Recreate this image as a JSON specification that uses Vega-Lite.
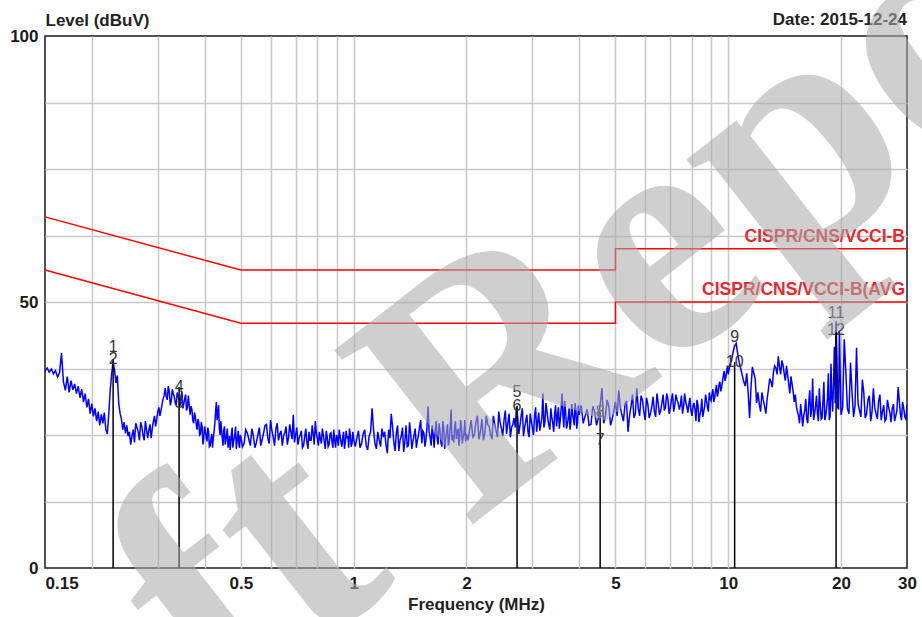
{
  "$schema": "https://vega.github.io/schema/vega-lite/v6.json",
  "width": 862,
  "height": 532,
  "autosize": {"type": "none"},
  "padding": {"left": 45, "top": 36, "right": 15, "bottom": 49},
  "background": "white",
  "config": {
    "font": "Liberation Sans",
    "view": {"stroke": "#1a1a1a", "strokeWidth": 1.5}
  },
  "datasets": {
    "trace": [
      {"f":0.150,"v":37.0},{"f":0.152,"v":37.6},{"f":0.154,"v":36.8},{"f":0.156,"v":37.4},{"f":0.158,"v":36.5},{"f":0.160,"v":37.1},{"f":0.162,"v":35.9},{"f":0.164,"v":36.7},{"f":0.166,"v":40.4},{"f":0.168,"v":35.0},
      {"f":0.170,"v":33.4},{"f":0.172,"v":36.0},{"f":0.174,"v":33.0},{"f":0.176,"v":35.2},{"f":0.178,"v":33.5},{"f":0.180,"v":34.6},{"f":0.182,"v":32.8},{"f":0.184,"v":34.2},{"f":0.186,"v":32.0},{"f":0.188,"v":33.6},
      {"f":0.190,"v":31.2},{"f":0.192,"v":32.8},{"f":0.194,"v":30.2},{"f":0.196,"v":31.8},{"f":0.198,"v":29.0},{"f":0.200,"v":30.9},{"f":0.202,"v":28.5},{"f":0.204,"v":30.0},{"f":0.206,"v":27.6},{"f":0.208,"v":29.4},
      {"f":0.210,"v":26.8},{"f":0.212,"v":28.9},{"f":0.214,"v":27.2},{"f":0.216,"v":29.2},{"f":0.218,"v":26.0},{"f":0.220,"v":25.2},{"f":0.222,"v":29.0},{"f":0.224,"v":33.5},{"f":0.226,"v":36.5},{"f":0.228,"v":38.8},
      {"f":0.230,"v":37.2},{"f":0.232,"v":34.8},{"f":0.234,"v":36.2},{"f":0.236,"v":31.0},{"f":0.238,"v":29.0},{"f":0.240,"v":28.0},{"f":0.242,"v":26.0},{"f":0.244,"v":27.4},{"f":0.246,"v":25.3},{"f":0.248,"v":26.8},
      {"f":0.250,"v":24.8},{"f":0.254,"v":23.2},{"f":0.258,"v":26.0},{"f":0.262,"v":27.2},{"f":0.266,"v":25.6},{"f":0.270,"v":27.4},{"f":0.274,"v":25.0},{"f":0.278,"v":27.6},{"f":0.282,"v":24.4},{"f":0.286,"v":27.0},
      {"f":0.290,"v":26.2},{"f":0.294,"v":28.6},{"f":0.298,"v":28.0},{"f":0.302,"v":30.2},{"f":0.306,"v":29.6},{"f":0.310,"v":31.8},{"f":0.314,"v":33.8},{"f":0.318,"v":31.6},{"f":0.322,"v":33.2},{"f":0.326,"v":31.4},
      {"f":0.330,"v":32.8},{"f":0.334,"v":31.0},{"f":0.338,"v":33.0},{"f":0.342,"v":31.6},{"f":0.346,"v":32.2},{"f":0.350,"v":30.0},{"f":0.354,"v":31.8},{"f":0.358,"v":29.6},{"f":0.362,"v":32.4},{"f":0.366,"v":28.8},
      {"f":0.370,"v":29.8},{"f":0.374,"v":27.2},{"f":0.378,"v":28.4},{"f":0.382,"v":26.0},{"f":0.386,"v":27.4},{"f":0.390,"v":25.2},{"f":0.394,"v":26.6},{"f":0.398,"v":24.4},{"f":0.402,"v":25.8},{"f":0.406,"v":23.8},
      {"f":0.410,"v":25.6},{"f":0.414,"v":23.0},{"f":0.418,"v":25.2},{"f":0.422,"v":24.4},{"f":0.426,"v":27.2},{"f":0.430,"v":31.2},{"f":0.434,"v":29.0},{"f":0.438,"v":26.2},{"f":0.442,"v":27.6},{"f":0.446,"v":24.4},
      {"f":0.450,"v":25.8},{"f":0.454,"v":23.2},{"f":0.458,"v":25.0},{"f":0.462,"v":22.6},{"f":0.466,"v":24.8},{"f":0.470,"v":23.4},{"f":0.474,"v":26.4},{"f":0.478,"v":23.8},{"f":0.482,"v":25.2},{"f":0.486,"v":22.4},
      {"f":0.490,"v":24.6},{"f":0.494,"v":23.2},{"f":0.498,"v":25.0},
      {"f":0.252,"v":25.6},{"f":0.256,"v":24.8},{"f":0.260,"v":23.6},{"f":0.264,"v":26.4},{"f":0.268,"v":24.0},{"f":0.272,"v":26.6},{"f":0.276,"v":24.0},{"f":0.280,"v":26.0},{"f":0.284,"v":25.8},{"f":0.288,"v":24.4},
      {"f":0.292,"v":27.6},{"f":0.296,"v":26.6},{"f":0.300,"v":29.4},{"f":0.304,"v":28.6},{"f":0.308,"v":30.8},{"f":0.312,"v":32.4},{"f":0.316,"v":32.2},{"f":0.320,"v":34.2},{"f":0.324,"v":30.6},{"f":0.328,"v":33.6},
      {"f":0.332,"v":32.2},{"f":0.336,"v":30.6},{"f":0.340,"v":32.4},{"f":0.344,"v":30.4},{"f":0.348,"v":33.2},{"f":0.352,"v":30.8},{"f":0.356,"v":32.6},{"f":0.360,"v":30.2},{"f":0.364,"v":30.6},{"f":0.368,"v":30.4},
      {"f":0.372,"v":27.8},{"f":0.376,"v":29.2},{"f":0.380,"v":27.0},{"f":0.384,"v":28.0},{"f":0.388,"v":25.0},{"f":0.392,"v":27.4},{"f":0.396,"v":23.2},{"f":0.400,"v":26.6},{"f":0.404,"v":24.6},{"f":0.408,"v":26.4},
      {"f":0.412,"v":22.8},{"f":0.416,"v":24.2},{"f":0.420,"v":22.6},{"f":0.424,"v":25.6},{"f":0.428,"v":29.4},{"f":0.432,"v":27.8},{"f":0.436,"v":30.6},{"f":0.440,"v":25.0},{"f":0.444,"v":26.0},{"f":0.448,"v":23.0},
      {"f":0.452,"v":26.6},{"f":0.456,"v":24.0},{"f":0.460,"v":26.2},{"f":0.464,"v":23.6},{"f":0.468,"v":22.2},{"f":0.472,"v":25.4},{"f":0.476,"v":22.6},{"f":0.480,"v":24.4},{"f":0.484,"v":26.6},{"f":0.488,"v":23.6},
      {"f":0.492,"v":25.8},{"f":0.496,"v":22.6},{"f":0.500,"v":24.6},
      {"f":0.51,"v":23.4},{"f":0.52,"v":25.4},{"f":0.53,"v":23.0},{"f":0.54,"v":24.8},{"f":0.55,"v":23.6},{"f":0.56,"v":26.4},{"f":0.57,"v":24.2},{"f":0.58,"v":26.8},{"f":0.59,"v":24.4},{"f":0.60,"v":27.8},
      {"f":0.61,"v":24.6},{"f":0.62,"v":26.2},{"f":0.63,"v":24.0},{"f":0.64,"v":25.8},{"f":0.65,"v":24.8},{"f":0.66,"v":26.6},{"f":0.67,"v":24.4},{"f":0.68,"v":25.6},{"f":0.69,"v":28.8},{"f":0.70,"v":25.0},
      {"f":0.71,"v":23.2},{"f":0.72,"v":25.0},{"f":0.73,"v":22.6},{"f":0.74,"v":24.6},{"f":0.75,"v":23.8},{"f":0.76,"v":25.6},{"f":0.77,"v":24.0},{"f":0.78,"v":25.2},{"f":0.79,"v":27.6},{"f":0.80,"v":24.4},
      {"f":0.81,"v":25.6},{"f":0.82,"v":23.4},{"f":0.83,"v":25.0},{"f":0.84,"v":22.4},{"f":0.85,"v":24.6},{"f":0.86,"v":23.2},{"f":0.87,"v":25.4},{"f":0.88,"v":22.6},{"f":0.89,"v":24.0},{"f":0.90,"v":25.0},
      {"f":0.91,"v":23.0},{"f":0.92,"v":24.8},{"f":0.93,"v":22.8},{"f":0.94,"v":25.6},{"f":0.95,"v":23.6},{"f":0.96,"v":24.4},{"f":0.97,"v":22.6},{"f":0.98,"v":25.0},{"f":0.99,"v":23.4},{"f":1.00,"v":24.2},
      {"f":0.505,"v":22.8},{"f":0.515,"v":26.0},{"f":0.525,"v":24.2},{"f":0.535,"v":26.2},{"f":0.545,"v":22.6},{"f":0.555,"v":25.0},{"f":0.565,"v":23.0},{"f":0.575,"v":25.4},{"f":0.585,"v":27.0},{"f":0.595,"v":23.4},
      {"f":0.605,"v":25.8},{"f":0.615,"v":23.0},{"f":0.625,"v":27.2},{"f":0.635,"v":25.2},{"f":0.645,"v":23.0},{"f":0.655,"v":25.4},{"f":0.665,"v":23.2},{"f":0.675,"v":27.0},{"f":0.685,"v":24.2},{"f":0.695,"v":23.6},
      {"f":0.705,"v":26.4},{"f":0.715,"v":24.4},{"f":0.725,"v":25.8},{"f":0.735,"v":23.0},{"f":0.745,"v":26.2},{"f":0.755,"v":22.4},{"f":0.765,"v":24.0},{"f":0.775,"v":26.8},{"f":0.785,"v":23.2},{"f":0.795,"v":25.4},
      {"f":0.805,"v":23.0},{"f":0.815,"v":24.2},{"f":0.825,"v":26.2},{"f":0.835,"v":23.6},{"f":0.845,"v":25.8},{"f":0.855,"v":22.8},{"f":0.865,"v":25.2},{"f":0.875,"v":23.8},{"f":0.885,"v":26.0},{"f":0.895,"v":22.6},
      {"f":0.905,"v":24.4},{"f":0.915,"v":26.0},{"f":0.925,"v":23.6},{"f":0.935,"v":24.6},{"f":0.945,"v":22.4},{"f":0.955,"v":25.8},{"f":0.965,"v":24.8},{"f":0.975,"v":26.2},{"f":0.985,"v":22.8},{"f":0.995,"v":25.6},
      {"f":1.02,"v":24.4},{"f":1.04,"v":22.6},{"f":1.06,"v":25.2},{"f":1.08,"v":23.0},{"f":1.10,"v":24.8},{"f":1.12,"v":30.0},{"f":1.14,"v":23.4},{"f":1.16,"v":25.6},{"f":1.18,"v":22.8},{"f":1.20,"v":24.6},
      {"f":1.22,"v":23.2},{"f":1.24,"v":26.0},{"f":1.26,"v":29.0},{"f":1.28,"v":23.6},{"f":1.30,"v":25.4},{"f":1.32,"v":22.0},{"f":1.34,"v":24.8},{"f":1.36,"v":21.8},{"f":1.38,"v":26.8},{"f":1.40,"v":23.0},
      {"f":1.42,"v":25.2},{"f":1.44,"v":23.8},{"f":1.46,"v":26.2},{"f":1.48,"v":24.0},{"f":1.50,"v":26.6},{"f":1.52,"v":23.4},{"f":1.54,"v":25.4},{"f":1.56,"v":24.2},{"f":1.58,"v":30.4},{"f":1.60,"v":24.6},
      {"f":1.62,"v":26.8},{"f":1.64,"v":22.6},{"f":1.66,"v":27.6},{"f":1.68,"v":23.2},{"f":1.70,"v":25.8},{"f":1.72,"v":22.8},{"f":1.74,"v":26.4},{"f":1.76,"v":24.2},{"f":1.78,"v":27.0},{"f":1.80,"v":24.0},
      {"f":1.82,"v":29.8},{"f":1.84,"v":25.0},{"f":1.86,"v":26.6},{"f":1.88,"v":24.2},{"f":1.90,"v":26.0},{"f":1.92,"v":24.8},{"f":1.94,"v":26.4},{"f":1.96,"v":24.6},{"f":1.98,"v":27.8},{"f":2.00,"v":25.2},
      {"f":1.01,"v":22.8},{"f":1.03,"v":25.8},{"f":1.05,"v":23.4},{"f":1.07,"v":26.0},{"f":1.09,"v":22.2},{"f":1.11,"v":25.6},{"f":1.13,"v":26.0},{"f":1.15,"v":22.4},{"f":1.17,"v":24.0},{"f":1.19,"v":26.2},
      {"f":1.21,"v":25.6},{"f":1.23,"v":21.6},{"f":1.25,"v":24.4},{"f":1.27,"v":26.6},{"f":1.29,"v":22.0},{"f":1.31,"v":26.8},{"f":1.33,"v":24.0},{"f":1.35,"v":26.4},{"f":1.37,"v":23.8},{"f":1.39,"v":22.8},
      {"f":1.41,"v":27.4},{"f":1.43,"v":22.4},{"f":1.45,"v":25.0},{"f":1.47,"v":22.6},{"f":1.49,"v":25.0},{"f":1.51,"v":27.8},{"f":1.53,"v":25.8},{"f":1.55,"v":22.8},{"f":1.57,"v":26.6},{"f":1.59,"v":25.6},
      {"f":1.61,"v":23.0},{"f":1.63,"v":25.0},{"f":1.65,"v":25.6},{"f":1.67,"v":24.6},{"f":1.69,"v":27.2},{"f":1.71,"v":23.6},{"f":1.73,"v":27.6},{"f":1.75,"v":22.4},{"f":1.77,"v":25.6},{"f":1.79,"v":23.0},
      {"f":1.81,"v":26.4},{"f":1.83,"v":24.0},{"f":1.85,"v":23.6},{"f":1.87,"v":27.6},{"f":1.89,"v":25.8},{"f":1.91,"v":23.0},{"f":1.93,"v":27.8},{"f":1.95,"v":23.4},{"f":1.97,"v":25.2},{"f":1.99,"v":23.8},
      {"f":2.04,"v":26.0},{"f":2.08,"v":24.6},{"f":2.12,"v":27.4},{"f":2.16,"v":24.2},{"f":2.20,"v":28.0},{"f":2.24,"v":25.4},{"f":2.28,"v":27.0},{"f":2.32,"v":25.0},{"f":2.36,"v":28.6},{"f":2.40,"v":25.8},
      {"f":2.44,"v":29.4},{"f":2.48,"v":26.2},{"f":2.52,"v":27.8},{"f":2.56,"v":25.2},{"f":2.60,"v":29.0},{"f":2.64,"v":26.4},{"f":2.68,"v":28.2},{"f":2.72,"v":30.2},{"f":2.76,"v":25.2},{"f":2.80,"v":28.6},
      {"f":2.84,"v":24.8},{"f":2.88,"v":27.6},{"f":2.92,"v":25.6},{"f":2.96,"v":29.0},{"f":3.00,"v":26.4},{"f":3.04,"v":28.4},{"f":3.08,"v":25.6},{"f":3.12,"v":29.2},{"f":3.16,"v":27.0},{"f":3.20,"v":32.8},
      {"f":3.24,"v":27.4},{"f":3.28,"v":29.6},{"f":3.32,"v":26.8},{"f":3.36,"v":30.0},{"f":3.40,"v":27.2},{"f":3.44,"v":29.0},{"f":3.48,"v":26.6},{"f":3.52,"v":30.2},{"f":3.56,"v":27.8},{"f":3.60,"v":32.8},
      {"f":3.64,"v":26.4},{"f":3.68,"v":29.4},{"f":3.72,"v":27.0},{"f":3.76,"v":30.0},{"f":3.80,"v":27.4},{"f":3.84,"v":29.0},{"f":3.88,"v":26.8},{"f":3.92,"v":29.6},{"f":3.96,"v":27.4},{"f":4.00,"v":28.8},
      {"f":2.02,"v":24.0},{"f":2.06,"v":27.8},{"f":2.10,"v":25.0},{"f":2.14,"v":28.6},{"f":2.18,"v":25.6},{"f":2.22,"v":24.0},{"f":2.26,"v":28.6},{"f":2.30,"v":26.6},{"f":2.34,"v":24.2},{"f":2.38,"v":27.0},
      {"f":2.42,"v":24.6},{"f":2.46,"v":27.4},{"f":2.50,"v":24.8},{"f":2.54,"v":29.6},{"f":2.58,"v":27.2},{"f":2.62,"v":24.6},{"f":2.66,"v":27.0},{"f":2.70,"v":26.4},{"f":2.74,"v":28.4},{"f":2.78,"v":26.8},
      {"f":2.82,"v":30.0},{"f":2.86,"v":26.4},{"f":2.90,"v":28.8},{"f":2.94,"v":24.6},{"f":2.98,"v":27.6},{"f":3.02,"v":25.0},{"f":3.06,"v":30.2},{"f":3.10,"v":27.6},{"f":3.14,"v":25.8},{"f":3.18,"v":28.2},
      {"f":3.22,"v":26.4},{"f":3.26,"v":31.0},{"f":3.30,"v":28.0},{"f":3.34,"v":26.0},{"f":3.38,"v":28.4},{"f":3.42,"v":25.6},{"f":3.46,"v":30.6},{"f":3.50,"v":28.4},{"f":3.54,"v":26.2},{"f":3.58,"v":29.8},
      {"f":3.62,"v":28.8},{"f":3.66,"v":31.4},{"f":3.70,"v":26.2},{"f":3.74,"v":28.2},{"f":3.78,"v":26.0},{"f":3.82,"v":30.8},{"f":3.86,"v":28.0},{"f":3.90,"v":31.0},{"f":3.94,"v":26.2},{"f":3.98,"v":30.6},
      {"f":4.1,"v":27.2},{"f":4.2,"v":29.8},{"f":4.3,"v":27.0},{"f":4.4,"v":29.4},{"f":4.5,"v":28.2},{"f":4.6,"v":33.8},{"f":4.7,"v":28.6},{"f":4.8,"v":30.4},{"f":4.9,"v":28.0},{"f":5.0,"v":31.2},
      {"f":5.1,"v":33.4},{"f":5.2,"v":28.8},{"f":5.3,"v":30.8},{"f":5.4,"v":25.6},{"f":5.5,"v":30.4},{"f":5.6,"v":28.2},{"f":5.7,"v":33.8},{"f":5.8,"v":28.6},{"f":5.9,"v":31.6},{"f":6.0,"v":27.8},
      {"f":6.1,"v":30.8},{"f":6.2,"v":29.0},{"f":6.3,"v":32.2},{"f":6.4,"v":28.4},{"f":6.5,"v":31.0},{"f":6.6,"v":29.6},{"f":6.7,"v":32.6},{"f":6.8,"v":30.2},{"f":6.9,"v":31.8},{"f":7.0,"v":30.0},
      {"f":7.1,"v":32.8},{"f":7.2,"v":30.6},{"f":7.3,"v":31.6},{"f":7.4,"v":29.8},{"f":7.5,"v":32.4},{"f":7.6,"v":30.4},{"f":7.7,"v":31.2},{"f":7.8,"v":29.2},{"f":7.9,"v":32.0},{"f":8.0,"v":28.6},
      {"f":8.1,"v":31.0},{"f":8.2,"v":27.6},{"f":8.3,"v":30.6},{"f":8.4,"v":28.8},{"f":8.5,"v":31.8},{"f":8.6,"v":29.4},{"f":8.7,"v":32.6},{"f":8.8,"v":30.2},{"f":8.9,"v":33.0},{"f":9.0,"v":31.4},
      {"f":9.1,"v":33.6},{"f":9.2,"v":32.0},{"f":9.3,"v":34.4},{"f":9.4,"v":33.0},{"f":9.5,"v":35.0},{"f":9.6,"v":34.0},{"f":9.7,"v":36.2},{"f":9.8,"v":35.2},{"f":9.9,"v":37.0},{"f":10.0,"v":36.4},
      {"f":4.05,"v":30.6},{"f":4.15,"v":28.6},{"f":4.25,"v":26.8},{"f":4.35,"v":30.4},{"f":4.45,"v":26.8},{"f":4.55,"v":30.6},{"f":4.65,"v":27.2},{"f":4.75,"v":31.6},{"f":4.85,"v":26.8},{"f":4.95,"v":29.6},
      {"f":5.05,"v":28.6},{"f":5.15,"v":30.2},{"f":5.25,"v":27.6},{"f":5.35,"v":31.4},{"f":5.45,"v":28.6},{"f":5.55,"v":32.6},{"f":5.65,"v":29.0},{"f":5.75,"v":30.0},{"f":5.85,"v":32.4},{"f":5.95,"v":29.4},
      {"f":6.05,"v":32.0},{"f":6.15,"v":28.2},{"f":6.25,"v":30.4},{"f":6.35,"v":29.4},{"f":6.45,"v":32.8},{"f":6.55,"v":28.8},{"f":6.65,"v":31.0},{"f":6.75,"v":29.6},{"f":6.85,"v":32.8},{"f":6.95,"v":29.0},
      {"f":7.05,"v":31.6},{"f":7.15,"v":29.4},{"f":7.25,"v":32.6},{"f":7.35,"v":31.0},{"f":7.45,"v":30.6},{"f":7.55,"v":29.0},{"f":7.65,"v":32.8},{"f":7.75,"v":30.4},{"f":7.85,"v":30.8},{"f":7.95,"v":29.6},
      {"f":8.05,"v":30.4},{"f":8.15,"v":29.8},{"f":8.25,"v":31.6},{"f":8.35,"v":27.4},{"f":8.45,"v":29.6},{"f":8.55,"v":28.4},{"f":8.65,"v":30.4},{"f":8.75,"v":31.4},{"f":8.85,"v":29.4},{"f":8.95,"v":31.8},
      {"f":9.05,"v":32.8},{"f":9.15,"v":31.2},{"f":9.25,"v":33.4},{"f":9.35,"v":32.2},{"f":9.45,"v":34.6},{"f":9.55,"v":33.2},{"f":9.65,"v":35.0},{"f":9.75,"v":37.0},{"f":9.85,"v":35.8},{"f":9.95,"v":38.0},
      {"f":10.2,"v":39.0},{"f":10.4,"v":41.8},{"f":10.6,"v":40.2},{"f":10.8,"v":37.4},{"f":11.0,"v":35.0},{"f":11.2,"v":36.6},{"f":11.4,"v":28.2},{"f":11.6,"v":37.8},{"f":11.8,"v":35.6},{"f":12.0,"v":33.0},
      {"f":12.2,"v":29.4},{"f":12.4,"v":31.6},{"f":12.6,"v":29.0},{"f":12.8,"v":33.6},{"f":13.0,"v":35.0},{"f":13.2,"v":36.8},{"f":13.4,"v":37.6},{"f":13.6,"v":39.8},{"f":13.8,"v":36.4},{"f":14.0,"v":38.2},
      {"f":14.2,"v":35.2},{"f":14.4,"v":36.4},{"f":14.6,"v":32.8},{"f":14.8,"v":34.6},{"f":15.0,"v":31.2},{"f":15.2,"v":30.4},{"f":15.4,"v":28.6},{"f":15.6,"v":30.8},{"f":15.8,"v":26.6},{"f":16.0,"v":29.6},
      {"f":16.2,"v":28.0},{"f":16.4,"v":31.0},{"f":16.6,"v":28.4},{"f":16.8,"v":35.6},{"f":17.0,"v":29.0},{"f":17.2,"v":32.4},{"f":17.4,"v":27.6},{"f":17.6,"v":30.6},{"f":17.8,"v":28.2},{"f":18.0,"v":35.0},
      {"f":18.2,"v":28.6},{"f":18.4,"v":31.8},{"f":18.6,"v":27.8},{"f":18.8,"v":38.4},{"f":19.0,"v":29.4},{"f":19.2,"v":41.6},{"f":19.4,"v":46.4},{"f":19.6,"v":30.2},{"f":19.8,"v":44.6},{"f":20.0,"v":28.8},
      {"f":10.1,"v":38.2},{"f":10.3,"v":40.6},{"f":10.5,"v":42.2},{"f":10.7,"v":38.6},{"f":10.9,"v":36.2},{"f":11.1,"v":34.2},{"f":11.3,"v":33.0},{"f":11.5,"v":34.0},{"f":11.7,"v":36.6},{"f":11.9,"v":31.0},
      {"f":12.1,"v":30.8},{"f":12.3,"v":33.0},{"f":12.5,"v":30.4},{"f":12.7,"v":31.8},{"f":12.9,"v":35.6},{"f":13.1,"v":34.0},{"f":13.3,"v":38.0},{"f":13.5,"v":36.4},{"f":13.7,"v":37.8},{"f":13.9,"v":39.0},
      {"f":14.1,"v":36.6},{"f":14.3,"v":38.0},{"f":14.5,"v":34.6},{"f":14.7,"v":36.0},{"f":14.9,"v":33.2},{"f":15.1,"v":32.6},{"f":15.3,"v":29.4},{"f":15.5,"v":27.2},{"f":15.7,"v":29.0},{"f":15.9,"v":28.6},
      {"f":16.1,"v":31.8},{"f":16.3,"v":27.2},{"f":16.5,"v":33.4},{"f":16.7,"v":29.8},{"f":16.9,"v":27.8},{"f":17.1,"v":30.4},{"f":17.3,"v":29.0},{"f":17.5,"v":33.8},{"f":17.7,"v":28.0},{"f":17.9,"v":31.4},
      {"f":18.1,"v":27.8},{"f":18.3,"v":30.0},{"f":18.5,"v":36.6},{"f":18.7,"v":28.6},{"f":18.9,"v":32.0},{"f":19.1,"v":35.2},{"f":19.3,"v":31.0},{"f":19.5,"v":40.0},{"f":19.7,"v":29.8},{"f":19.9,"v":36.4},
      {"f":20.4,"v":43.0},{"f":20.8,"v":30.0},{"f":21.2,"v":38.6},{"f":21.6,"v":28.4},{"f":22.0,"v":41.4},{"f":22.4,"v":29.6},{"f":22.8,"v":35.4},{"f":23.2,"v":28.2},{"f":23.6,"v":31.6},{"f":24.0,"v":27.6},
      {"f":24.4,"v":33.8},{"f":24.8,"v":29.0},{"f":25.2,"v":31.4},{"f":25.6,"v":27.8},{"f":26.0,"v":30.6},{"f":26.4,"v":28.0},{"f":26.8,"v":30.2},{"f":27.2,"v":27.4},{"f":27.6,"v":30.8},{"f":28.0,"v":28.6},
      {"f":28.4,"v":34.0},{"f":28.8,"v":29.0},{"f":29.2,"v":31.2},{"f":29.6,"v":28.4},{"f":30.0,"v":30.6},
      {"f":20.2,"v":30.2},{"f":20.6,"v":36.8},{"f":21.0,"v":29.0},{"f":21.4,"v":33.0},{"f":21.8,"v":30.6},{"f":22.2,"v":31.0},{"f":22.6,"v":28.4},{"f":23.0,"v":33.0},{"f":23.4,"v":29.0},{"f":23.8,"v":32.4},
      {"f":24.2,"v":29.4},{"f":24.6,"v":30.2},{"f":25.0,"v":28.0},{"f":25.4,"v":32.6},{"f":25.8,"v":29.4},{"f":26.2,"v":27.6},{"f":26.6,"v":31.6},{"f":27.0,"v":29.2},{"f":27.4,"v":30.0},{"f":27.8,"v":27.6},
      {"f":28.2,"v":29.6},{"f":28.6,"v":31.6},{"f":29.0,"v":27.8},{"f":29.4,"v":30.0},{"f":29.8,"v":28.0}
    ],
    "limits": [
      {"s":"QP","i":1,"f":0.15,"v":66},{"s":"QP","i":2,"f":0.5,"v":56},{"s":"QP","i":3,"f":5,"v":56},{"s":"QP","i":4,"f":5,"v":60},{"s":"QP","i":5,"f":30,"v":60},
      {"s":"AVG","i":1,"f":0.15,"v":56},{"s":"AVG","i":2,"f":0.5,"v":46},{"s":"AVG","i":3,"f":5,"v":46},{"s":"AVG","i":4,"f":5,"v":50},{"s":"AVG","i":5,"f":30,"v":50}
    ],
    "limlabels": [
      {"label":"CISPR/CNS/VCCI-B","f":30,"v":60},
      {"label":"CISPR/CNS/VCCI-B(AVG","f":30,"v":50}
    ],
    "markers": [
      {"n":"1","t":"QP","f":0.228,"v":41.5},{"n":"2","t":"AVG","f":0.228,"v":39.3},
      {"n":"3","t":"QP","f":0.342,"v":31.0},{"n":"4","t":"AVG","f":0.342,"v":34.0},
      {"n":"5","t":"QP","f":2.73,"v":33.1},{"n":"6","t":"AVG","f":2.73,"v":30.5},
      {"n":"7","t":"QP","f":4.55,"v":24.1},{"n":"8","t":"AVG","f":4.55,"v":29.3},
      {"n":"9","t":"QP","f":10.4,"v":43.4},{"n":"10","t":"AVG","f":10.4,"v":38.7},
      {"n":"11","t":"QP","f":19.4,"v":47.9},{"n":"12","t":"AVG","f":19.4,"v":44.7}
    ],
    "datelabel": [
      {"label":"Date: 2015-12-24","f":30,"v":100}
    ],
    "watermark": [
      {"wm":"Draft Report","f":1.92,"v":30.6}
    ]
  },
  "encoding": {
    "x": {
      "field": "f", "type": "quantitative",
      "scale": {"type": "log", "domain": [0.15, 30], "nice": false},
      "axis": {
        "title": "Frequency (MHz)", "titleFontSize": 17, "titleFontWeight": "bold", "titleColor": "#222222", "titlePadding": 5,
        "values": [0.15,0.2,0.3,0.4,0.5,0.6,0.7,0.8,0.9,1,2,3,4,5,6,7,8,9,10,20,30],
        "labelExpr": "indexof([0.15,0.5,1,2,5,10,20,30], datum.value) >= 0 ? '' + datum.value : ''",
        "labelFontSize": 17, "labelFontWeight": "bold", "labelColor": "#1a1a1a", "labelPadding": 7,
        "labelAlign": {"condition": {"test": "datum.value < 0.16", "value": "left"}, "value": "center"},
        "labelOverlap": false, "labelBound": false, "labelFlush": false,
        "ticks": false, "domain": false,
        "grid": true, "gridColor": "#c8c8c8", "gridWidth": 1.5,
        "gridOpacity": {"condition": {"test": "datum.value < 0.16 || datum.value > 29", "value": 0}, "value": 1}
      }
    },
    "y": {
      "field": "v", "type": "quantitative",
      "scale": {"domain": [0, 100], "nice": false},
      "axis": {
        "title": "Level (dBuV)", "titleFontSize": 17, "titleFontWeight": "bold", "titleColor": "#222222",
        "titleAngle": 0, "titleAlign": "left", "titleBaseline": "middle", "titleX": 0, "titleY": -16,
        "values": [0,12.5,25,37.5,50,62.5,75,87.5,100],
        "labelExpr": "datum.value % 50 === 0 ? '' + datum.value : ''",
        "labelFontSize": 17, "labelFontWeight": "bold", "labelColor": "#1a1a1a", "labelPadding": 7,
        "labelOverlap": false, "labelBound": false, "labelFlush": false,
        "ticks": false, "domain": false,
        "grid": true, "gridColor": "#c8c8c8", "gridWidth": 1.5,
        "gridOpacity": {"condition": {"test": "datum.value === 0 || datum.value === 100", "value": 0}, "value": 1}
      }
    }
  },
  "layer": [
    {
      "data": {"name": "trace"},
      "mark": {"type": "line", "color": "#0000ff", "strokeWidth": 1.5, "clip": true},
      "encoding": {}
    },
    {
      "data": {"name": "limits"},
      "mark": {"type": "line", "color": "#ff0000", "strokeWidth": 1.5},
      "encoding": {
        "detail": {"field": "s"},
        "order": {"field": "i", "type": "quantitative"}
      }
    },
    {
      "data": {"name": "limlabels"},
      "mark": {"type": "text", "align": "right", "baseline": "bottom", "dy": -3, "dx": -2, "fontSize": 17.5, "fontWeight": "bold", "color": "#e8282b"},
      "encoding": {"text": {"field": "label"}}
    },
    {
      "data": {"name": "markers"},
      "transform": [{"filter": "datum.t === 'AVG'"}],
      "mark": {"type": "rule", "color": "#000000", "strokeWidth": 1.5},
      "encoding": {
        "y": {"datum": 0},
        "y2": {"field": "v"}
      }
    },
    {
      "data": {"name": "markers"},
      "mark": {"type": "text", "align": "center", "baseline": "middle", "fontSize": 16, "color": "#333333"},
      "encoding": {"text": {"field": "n"}}
    },
    {
      "data": {"name": "datelabel"},
      "mark": {"type": "text", "align": "right", "baseline": "middle", "dy": -16, "fontSize": 17, "fontWeight": "bold", "color": "#222222"},
      "encoding": {"text": {"field": "label"}}
    },
    {
      "data": {"name": "watermark"},
      "mark": {"type": "text", "align": "center", "baseline": "middle", "angle": -38, "font": "Liberation Serif", "fontWeight": "bold", "fontSize": 340, "color": "#ababab", "opacity": 0.56},
      "encoding": {"text": {"field": "wm"}}
    }
  ]
}
